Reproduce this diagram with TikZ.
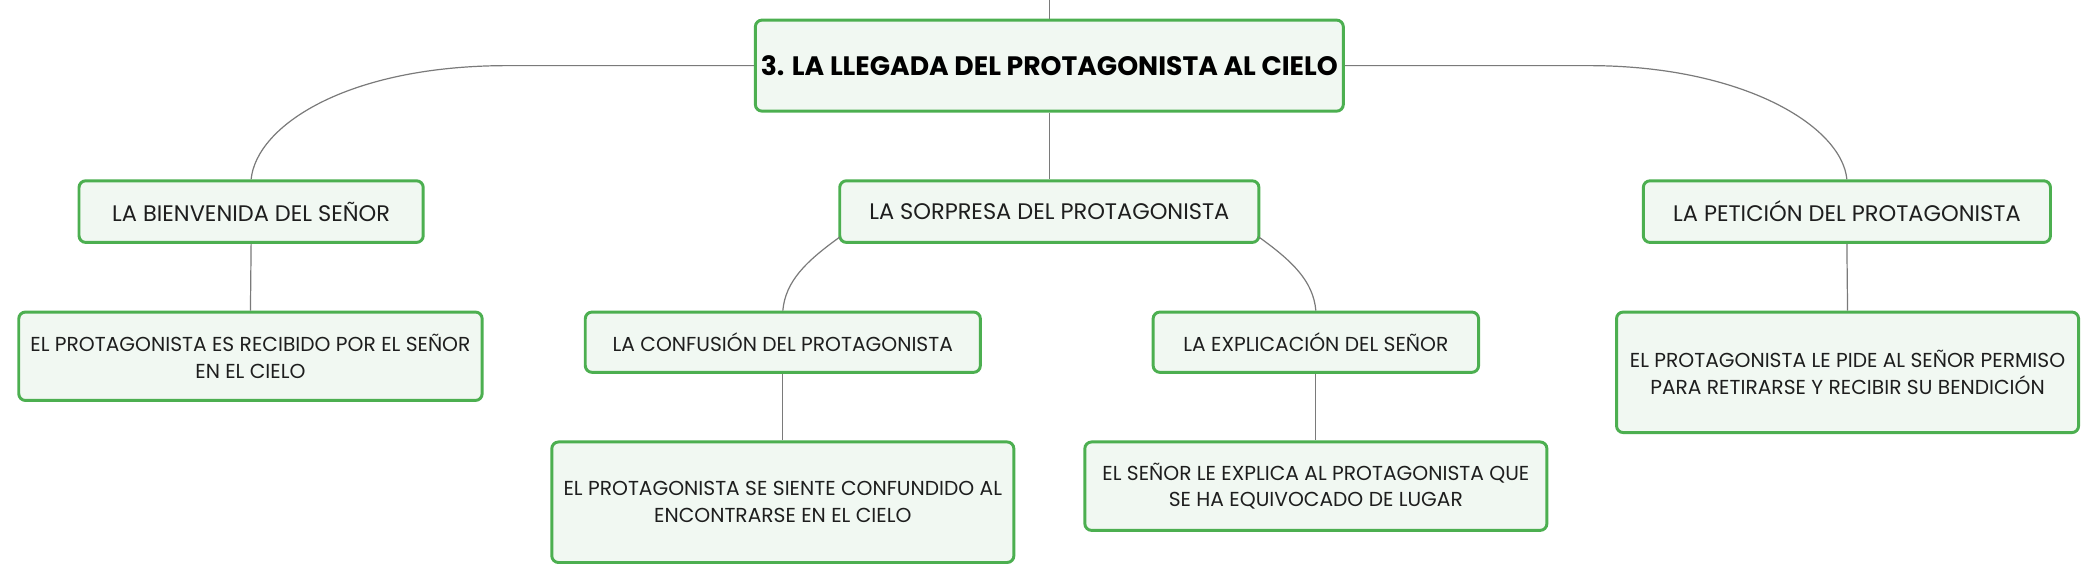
\documentclass[tikz,border=0pt]{standalone}
\usepackage{fontspec}
\setmainfont{Poppins}
\usetikzlibrary{calc}
\definecolor{boxgreen}{HTML}{4CAF50}
\definecolor{boxfill}{HTML}{F1F8F2}
\definecolor{linkgray}{HTML}{7A7A7A}
\definecolor{txt}{HTML}{1E1E1E}
\tikzset{
  box/.style={draw=boxgreen, line width=2.2pt, fill=boxfill, rounded corners=5pt,
    inner sep=0pt, align=center, text=txt, font=\fontsize{15.1}{20}\selectfont},
  midbox/.style={box, font=\fontsize{16.8}{20}\selectfont},
  rootbox/.style={box, text=black, font=\fontsize{19.9}{22}\selectfont\bfseries},
  link/.style={draw=linkgray, line width=0.9pt}
}
\begin{document}
\begin{tikzpicture}[x=1pt,y=-1pt]
\useasboundingbox (0,0) rectangle (1568,436);
\node[rootbox, minimum width=439pt, minimum height=68pt] (root) at (783.5,49) {3. LA LLEGADA DEL PROTAGONISTA AL CIELO};
\node[midbox, minimum width=257pt, minimum height=46pt] (bien) at (187.5,158) {LA BIENVENIDA DEL SEÑOR};
\node[midbox, minimum width=313pt, minimum height=46pt] (sorp) at (783.5,158) {LA SORPRESA DEL PROTAGONISTA};
\node[midbox, minimum width=304pt, minimum height=46pt] (peti) at (1379,158) {LA PETICIÓN DEL PROTAGONISTA};
\node[box, minimum width=346pt, minimum height=66pt] (recib) at (187,266) {EL PROTAGONISTA ES RECIBIDO POR EL SEÑOR\\EN EL CIELO};
\node[box, minimum width=295pt, minimum height=45pt] (conf) at (584.5,255.5) {LA CONFUSIÓN DEL PROTAGONISTA};
\node[box, minimum width=243pt, minimum height=45pt] (expl) at (982.5,255.5) {LA EXPLICACIÓN DEL SEÑOR};
\node[box, minimum width=345pt, minimum height=90pt] (confch) at (584.5,375) {EL PROTAGONISTA SE SIENTE CONFUNDIDO AL\\ENCONTRARSE EN EL CIELO};
\node[box, minimum width=345pt, minimum height=66pt] (explch) at (982.5,363) {EL SEÑOR LE EXPLICA AL PROTAGONISTA QUE\\SE HA EQUIVOCADO DE LUGAR};
\node[box, minimum width=345pt, minimum height=90pt] (petich) at (1379.5,278) {EL PROTAGONISTA LE PIDE AL SEÑOR PERMISO\\PARA RETIRARSE Y RECIBIR SU BENDICIÓN};
\coordinate (top) at (783.5,0);
\draw[link] (top) -- (root.north);
\draw[link] (root.south) -- (sorp.north);
\draw[link] (root.west) -- ++(-184,0) .. controls ++(-120,0) and ($(bien.north)+(4,-40)$) .. (bien.north);
\draw[link] (root.east) -- ++(182,0) .. controls ++(115,0) and ($(peti.north)+(-4,-40)$) .. (peti.north);
\draw[link] ($(sorp.south west)+(1,-5)$) .. controls +(-25,18) and ($(conf.north)+(2,-22)$) .. (conf.north);
\draw[link] ($(sorp.south east)+(-1,-5)$) .. controls +(25,18) and ($(expl.north)+(-2,-22)$) .. (expl.north);
\draw[link] (bien.south) -- (recib.north);
\draw[link] (conf.south) -- (confch.north);
\draw[link] (expl.south) -- (explch.north);
\draw[link] (peti.south) -- (petich.north);
\end{tikzpicture}
\end{document}
